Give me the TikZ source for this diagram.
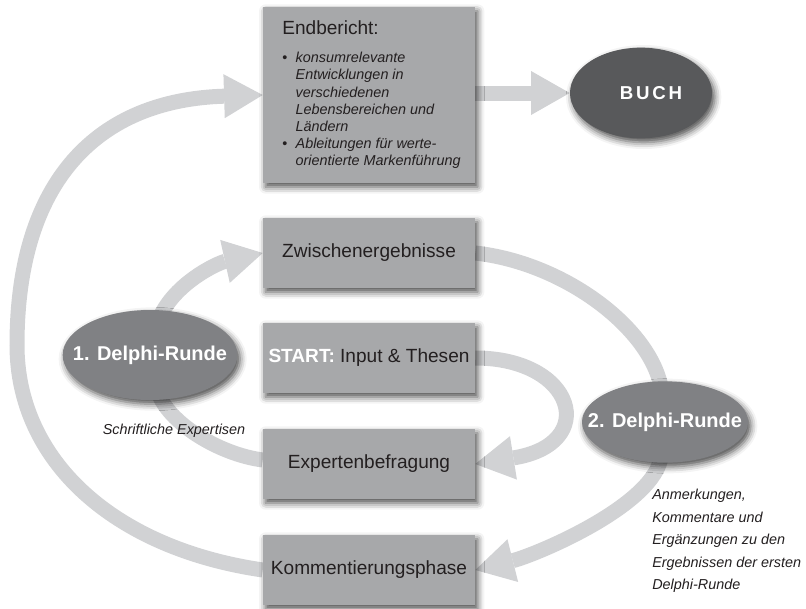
\documentclass[tikz,border=0pt]{standalone}
\usepackage{fontspec}
\setmainfont{Liberation Sans}
\newfontfamily\buchfont[LetterSpace=15]{Liberation Sans}
\usetikzlibrary{arrows.meta,shapes.geometric,shadows.blur}
\definecolor{boxfill}{HTML}{A7A8AA}
\definecolor{ellfill}{HTML}{808184}
\definecolor{buchfill}{HTML}{58595B}
\definecolor{arrowgray}{HTML}{D1D2D4}
\definecolor{txt}{HTML}{231F20}
\pgfdeclarelayer{bg}
\pgfsetlayers{bg,main}
\tikzset{
  softshadow/.style={blur shadow={shadow xshift=2pt, shadow yshift=-3pt, shadow blur radius=5pt, shadow opacity=70}},
  box/.style={rectangle, fill=boxfill, minimum width=159pt, minimum height=52.5pt, inner sep=0pt, text=txt, font=\fontsize{14.3}{17}\selectfont, softshadow},
  oval/.style={ellipse, fill=ellfill, inner sep=0pt, text=white, font=\bfseries\fontsize{15}{18}\selectfont, softshadow},
  flow/.style={draw=arrowgray, line width=11.25pt},
  bigtip/.style={-{Triangle[length=29pt,width=33pt,line width=0pt]}},
  note/.style={text=txt, font=\itshape\fontsize{10.8}{16.9}\selectfont, inner sep=0pt}
}
\begin{document}
\begin{tikzpicture}[x=0.75pt, y=-0.75pt]
\useasboundingbox (0,0) rectangle (806,608);

% nodes
\node[box, minimum height=132pt] (end) at (369,95) {\hspace*{6pt}%
\begin{minipage}{136pt}
{\fontsize{14.3}{17}\selectfont Endbericht:\par}
\vspace{8pt}
\fontsize{10.8}{12.9}\selectfont
\hangindent=10pt \hangafter=1 \makebox[10pt][l]{•}{\itshape konsumrelevante\newline Entwicklungen in\newline verschiedenen\newline Lebensbereichen und\newline Ländern}\par
\hangindent=10pt \hangafter=1 \makebox[10pt][l]{•}{\itshape Ableitungen für werte-\newline orientierte Markenführung}\par
\end{minipage}};
\node[box] (zw) at (369,253) {Zwischenergebnisse};
\node[box] (st) at (369,358) {{\bfseries\color{white}START:} Input \& Thesen};
\node[box] (ex) at (369,464) {Expertenbefragung};
\node[box] (ko) at (369,570) {Kommentierungsphase};
\node[oval, minimum width=131pt, minimum height=67.5pt] (d1) at (150,355) {\makebox[0pt]{1. Delphi-Runde}};
\node[oval, minimum width=124.5pt, minimum height=61pt] (d2) at (665,422) {\makebox[0pt]{2. Delphi-Runde}};
\node[ellipse, fill=buchfill, inner sep=0pt, minimum width=106.5pt, minimum height=68pt, text=white, font=\buchfont\bfseries\fontsize{14}{17}\selectfont, softshadow] (buch) at (641,93) {\makebox[0pt]{\hspace*{15pt}BUCH}};
\node[note] (schrift) at (174,431) {Schriftliche Expertisen};
\node[note, anchor=north west, align=left] (anm) at (652,489) {Anmerkungen,\\Kommentare und\\Ergänzungen zu den\\Ergebnissen der ersten\\Delphi-Runde};
\coordinate (bend) at (17,345);

% connectors
\begin{pgfonlayer}{bg}
\draw[flow, bigtip] (end.east |- buch.west) -- (buch.west);
\draw[flow, bigtip] (ko.west) .. controls +(-150,-22) and +(0,115) .. (bend)
      .. controls +(0,-165) and +(-164.5,5) .. (end.west);
\draw[flow, bigtip] ([yshift=-6pt]d1.78) .. controls +(15,-35) and +(-45,10) .. (zw.west);
\draw[flow] (zw.east) .. controls +(90,10) and +(-10,-60) .. ([yshift=-6pt]d2.95);
\draw[flow, bigtip] (st.east) .. controls +(100,0) and +(125,-20) .. (ex.east);
\draw[flow] ([yshift=6pt]d1.-80) .. controls +(10,30) and +(-45,-6) .. ([yshift=3pt]ex.west);
\draw[flow, bigtip] ([yshift=6pt]d2.-95) .. controls +(-5,50) and +(60,-15) .. (ko.east);
\end{pgfonlayer}
\end{tikzpicture}
\end{document}
